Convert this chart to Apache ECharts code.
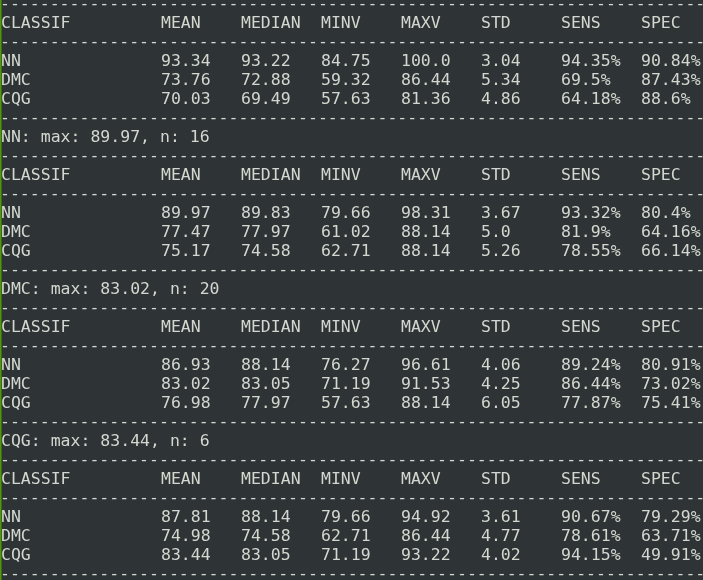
<!DOCTYPE html>
<html><head><meta charset="utf-8">
<script src="https://cdn.jsdelivr.net/npm/echarts@6/dist/echarts.min.js"></script>
<style>html,body{margin:0;padding:0;background:#2e3436}#c{width:703px;height:580px}</style>
</head><body><div id="c"></div>
<script>
const headers = ['CLASSIF','MEAN','MEDIAN','MINV','MAXV','STD','SENS','SPEC'];
const classifiers = ['NN','DMC','CQG'];
const block0 = [
  ['93.34','93.22','84.75','100.0','3.04','94.35%','90.84%'],
  ['73.76','72.88','59.32','86.44','5.34','69.5%','87.43%'],
  ['70.03','69.49','57.63','81.36','4.86','64.18%','88.6%']];
const block1 = [
  ['89.97','89.83','79.66','98.31','3.67','93.32%','80.4%'],
  ['77.47','77.97','61.02','88.14','5.0','81.9%','64.16%'],
  ['75.17','74.58','62.71','88.14','5.26','78.55%','66.14%']];
const block2 = [
  ['86.93','88.14','76.27','96.61','4.06','89.24%','80.91%'],
  ['83.02','83.05','71.19','91.53','4.25','86.44%','73.02%'],
  ['76.98','77.97','57.63','88.14','6.05','77.87%','75.41%']];
const block3 = [
  ['87.81','88.14','79.66','94.92','3.61','90.67%','79.29%'],
  ['74.98','74.58','62.71','86.44','4.77','78.61%','63.71%'],
  ['83.44','83.05','71.19','93.22','4.02','94.15%','49.91%']];
const blocks = [block0, block1, block2, block3];
const separators = ['NN: max: 89.97, n: 16','DMC: max: 83.02, n: 20','CQG: max: 83.44, n: 6'];

const font = '16.5px "DejaVu Sans Mono", monospace';
const fg = '#d3d7cf';
const dash = '-'.repeat(72);
const els = [];
let line = 0;
const y = i => 5 + 19 * i;
const colX = c => c === 0 ? 1 : 81 + 80 * c;
function txt(s, x, i) {
  els.push({type:'text', x:x, y:y(i), style:{text:s, font:font, fill:fg, verticalAlign:'middle'}});
}
blocks.forEach((b, bi) => {
  if (bi === 0) { txt(dash, 0, line); line++; }
  headers.forEach((h, c) => txt(h, colX(c), line)); line++;
  txt(dash, 0, line); line++;
  b.forEach((row, r) => {
    txt(classifiers[r], 1, line);
    row.forEach((v, c) => txt(v, colX(c + 1), line));
    line++;
  });
  txt(dash, 0, line); line++;
  if (bi < separators.length) { txt(separators[bi], 1, line); line++; txt(dash, 0, line); line++; }
});
els.push({type:'rect', shape:{x:0,y:0,width:1.5,height:580}, style:{fill:'#4e9a06'}});
const chart = echarts.init(document.getElementById('c'));
chart.setOption({backgroundColor:'#2e3436', graphic: els});
</script></body></html>
